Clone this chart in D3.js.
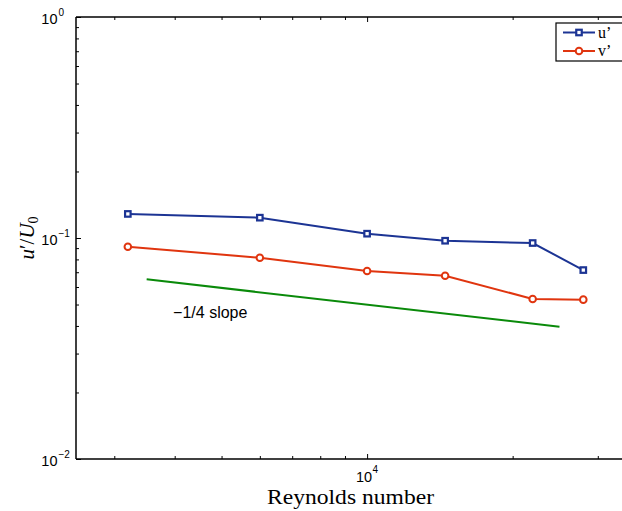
<!DOCTYPE html>
<html>
<head>
<meta charset="utf-8">
<script src="https://cdn.jsdelivr.net/npm/d3@7"></script>
<style>
  html, body { margin: 0; padding: 0; background: #fff; }
  svg { display: block; }
</style>
</head>
<body>
<svg id="chart" width="622" height="511"></svg>
<script>
// ---- data ----
const reynolds = [3200, 6000, 10000, 14500, 22000, 28000];
const uPrime   = [0.1285, 0.1236, 0.1046, 0.0972, 0.0949, 0.0716];
const vPrime   = [0.0913, 0.0814, 0.0709, 0.0675, 0.0530, 0.0526];
const slopeRe  = [3500, 25000];
const slopeVal = [0.065, 0.0397];
const seriesNames = ["u\u2019", "v\u2019"];
const xMajorTicks = [10000];
const yMajorTicks = [0.01, 0.1, 1];
const yTickExp = ["\u22122", "\u22121", "0"];
const xTickExp = ["4"];

(function () {
// ---- layout ----
const svg = d3.select("#chart");
const pLeft = 76, pTop = 17, pBottom = 459;
const decade = 483.5;
const x = d3.scaleLog().domain([2500, 40000]).range([pLeft, pLeft + decade * Math.log10(16)]);
const y = d3.scaleLog().domain([0.01, 1]).range([pBottom, pTop]);

const blue = "#1c3494", red = "#e0350f", green = "#0a8a0a";
const sans = "Liberation Sans, Arial, sans-serif";
const serif = "Liberation Serif, Times New Roman, serif";

// minor ticks
const xMinor = [];
[1000, 10000].forEach(b => { for (let k = 1; k <= 9; k++) { const v = b * k; if (v > 2500 && v < 40000 && v !== 10000) xMinor.push(v); } });
const yMinor = [];
[0.01, 0.1].forEach(b => { for (let k = 2; k <= 9; k++) yMinor.push(b * k); });

const ax = svg.append("g");
ax.append("g").attr("transform", `translate(0,${pBottom})`)
  .call(d3.axisBottom(x).tickValues(xMinor).tickSize(-3).tickFormat(""))
  .call(g => g.select(".domain").remove());
ax.append("g").attr("transform", `translate(0,${pBottom})`)
  .call(d3.axisBottom(x).tickValues(xMajorTicks).tickSize(-5).tickFormat(""))
  .call(g => g.select(".domain").remove());
ax.append("g").attr("transform", `translate(0,${pTop})`)
  .call(d3.axisTop(x).tickValues(xMinor).tickSize(-3).tickFormat(""))
  .call(g => g.select(".domain").remove());
ax.append("g").attr("transform", `translate(0,${pTop})`)
  .call(d3.axisTop(x).tickValues(xMajorTicks).tickSize(-5).tickFormat(""))
  .call(g => g.select(".domain").remove());
ax.append("g").attr("transform", `translate(${pLeft},0)`)
  .call(d3.axisLeft(y).tickValues(yMinor).tickSize(-3).tickFormat(""))
  .call(g => g.select(".domain").remove());
ax.append("g").attr("transform", `translate(${pLeft},0)`)
  .call(d3.axisLeft(y).tickValues(yMajorTicks).tickSize(-5).tickFormat(""))
  .call(g => g.select(".domain").remove());
ax.selectAll(".tick line").attr("stroke", "#000").attr("stroke-width", 1);

// frame lines
svg.append("line").attr("x1", pLeft).attr("x2", 622).attr("y1", pBottom).attr("y2", pBottom).attr("stroke", "#000").attr("stroke-width", 1.5);
svg.append("line").attr("x1", pLeft).attr("x2", 622).attr("y1", pTop).attr("y2", pTop).attr("stroke", "#000").attr("stroke-width", 1.5);
svg.append("line").attr("x1", pLeft).attr("x2", pLeft).attr("y1", pTop).attr("y2", pBottom).attr("stroke", "#000").attr("stroke-width", 1.5);

// y tick labels
yMajorTicks.forEach((v, i) => {
  svg.append("text").attr("font-family", sans).attr("font-size", 14.5)
    .attr("x", 57.5).attr("y", y(v) + 7).attr("text-anchor", "end").text("10");
  svg.append("text").attr("font-family", sans).attr("font-size", 10)
    .attr("x", 58.5).attr("y", y(v) - 1.5).text(yTickExp[i]);
});
// x tick labels
xMajorTicks.forEach((v, i) => {
  svg.append("text").attr("font-family", sans).attr("font-size", 14.5)
    .attr("x", x(v) + 5).attr("y", 482).attr("text-anchor", "end").text("10");
  svg.append("text").attr("font-family", sans).attr("font-size", 10)
    .attr("x", x(v) + 5.5).attr("y", 473).text(xTickExp[i]);
});

// axis titles
svg.append("text").attr("font-family", serif).attr("font-size", 20)
  .attr("x", 350.5).attr("y", 504).attr("text-anchor", "middle")
  .attr("textLength", 167).attr("lengthAdjust", "spacingAndGlyphs")
  .text("Reynolds number");

const yl = svg.append("text").attr("font-family", serif).attr("font-size", 21)
  .attr("transform", `translate(34,${(pTop + pBottom) / 2}) rotate(-90)`).attr("text-anchor", "middle");
yl.append("tspan").attr("font-style", "italic").text("u");
yl.append("tspan").text("\u2032/");
yl.append("tspan").attr("font-style", "italic").text("U");
yl.append("tspan").attr("font-size", 14).attr("dy", 4).text("0");

// slope line
const line = d3.line().x(d => x(d[0])).y(d => y(d[1]));
svg.append("path").datum(slopeRe.map((r, i) => [r, slopeVal[i]]))
  .attr("d", line).attr("fill", "none").attr("stroke", green).attr("stroke-width", 2);
svg.append("text").attr("font-family", sans).attr("font-size", 16)
  .attr("x", x(3970)).attr("y", y(0.0435)).text("\u22121/4 slope");

// series
const uData = reynolds.map((r, i) => [r, uPrime[i]]);
const vData = reynolds.map((r, i) => [r, vPrime[i]]);
svg.append("path").datum(uData).attr("d", line).attr("fill", "none").attr("stroke", blue).attr("stroke-width", 2);
svg.append("path").datum(vData).attr("d", line).attr("fill", "none").attr("stroke", red).attr("stroke-width", 2);

const sq = 5.5;
svg.selectAll(".usq").data(uData).enter().append("rect")
  .attr("x", d => x(d[0]) - sq / 2).attr("y", d => y(d[1]) - sq / 2).attr("width", sq).attr("height", sq)
  .attr("fill", "#fff").attr("stroke", blue).attr("stroke-width", 2.2);
svg.selectAll(".vc").data(vData).enter().append("circle")
  .attr("cx", d => x(d[0])).attr("cy", d => y(d[1])).attr("r", 3.3)
  .attr("fill", "#fff").attr("stroke", red).attr("stroke-width", 2);

// legend
const lg = svg.append("g");
lg.append("rect").attr("x", 556).attr("y", 23).attr("width", 80).attr("height", 38)
  .attr("fill", "#fff").attr("stroke", "#000").attr("stroke-width", 1.2);
const legendColors = [blue, red];
seriesNames.forEach((name, i) => {
  const ly = 32.5 + i * 18.5;
  lg.append("line").attr("x1", 563).attr("x2", 595).attr("y1", ly).attr("y2", ly).attr("stroke", legendColors[i]).attr("stroke-width", 2);
  if (i === 0) {
    lg.append("rect").attr("x", 579 - sq / 2).attr("y", ly - sq / 2).attr("width", sq).attr("height", sq).attr("fill", "#fff").attr("stroke", blue).attr("stroke-width", 2.2);
  } else {
    lg.append("circle").attr("cx", 579).attr("cy", ly).attr("r", 3.3).attr("fill", "#fff").attr("stroke", red).attr("stroke-width", 2);
  }
  lg.append("text").attr("font-family", serif).attr("font-size", 16)
    .attr("x", 598).attr("y", ly + 5).text(name);
});
})();
</script>
</body>
</html>
